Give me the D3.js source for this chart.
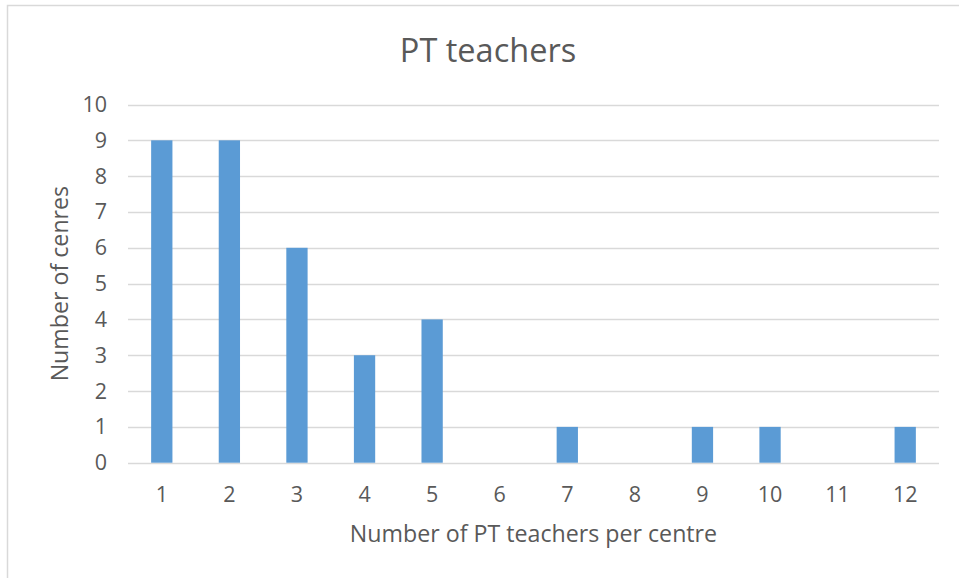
<!DOCTYPE html>
<html><head><meta charset="utf-8">
<script src="https://cdn.jsdelivr.net/npm/d3@7"></script>
<style>
html,body{margin:0;padding:0;background:#fff;}
svg{display:block;font-family:"Open Sans",sans-serif;}
</style></head>
<body>
<svg id="chart" width="959" height="578"></svg>
<script>
const categories = ["1","2","3","4","5","6","7","8","9","10","11","12"];
const values = [9,9,6,3,4,0,1,0,1,1,0,1];
const yTicks = [0,1,2,3,4,5,6,7,8,9,10];
const titleText = "PT teachers";
const xTitle = "Number of PT teachers per centre";
const yTitle = "Number of cenres";

const svg = d3.select("#chart");
const textColor = "#595959";
const gridColor = "#D9D9D9";
const barColor = "#5B9BD5";

// chart border
svg.append("rect").attr("x",7.5).attr("y",5.5).attr("width",1000).attr("height",600)
  .attr("fill","none").attr("stroke",gridColor).attr("stroke-width",1.5);

const plot = {left:128, right:939, top:104.5, bottom:462.7};
const x = d3.scaleBand().domain(categories).range([plot.left, plot.right]).padding(0);
const y = d3.scaleLinear().domain([0,10]).range([plot.bottom, plot.top]);

// gridlines
svg.append("g").selectAll("line").data(yTicks).join("line")
  .attr("x1",plot.left).attr("x2",plot.right)
  .attr("y1",d=>Math.round(y(d))+0.5).attr("y2",d=>Math.round(y(d))+0.5)
  .attr("stroke",gridColor).attr("stroke-width",1.5);

// y tick labels
svg.append("g").selectAll("text").data(yTicks).join("text")
  .attr("x",107).attr("y",d=>y(d)).attr("dy","0.35em")
  .attr("text-anchor","end").attr("fill",textColor).attr("font-size",21.5)
  .text(d=>d);

// bars
const bw = x.bandwidth()*0.315;
svg.append("g").selectAll("rect").data(values).join("rect")
  .attr("x",(d,i)=>x(categories[i])+(x.bandwidth()-bw)/2)
  .attr("width",bw)
  .attr("y",d=>y(d))
  .attr("height",d=>y(0)-y(d))
  .attr("fill",barColor);

// x tick labels
svg.append("g").selectAll("text").data(categories).join("text")
  .attr("x",d=>x(d)+x.bandwidth()/2).attr("y",502)
  .attr("text-anchor","middle").attr("fill",textColor).attr("font-size",21.5)
  .text(d=>d);

// title
svg.append("text").attr("x",488).attr("y",62).attr("text-anchor","middle")
  .attr("fill",textColor).attr("font-size",32.5).text(titleText);

// x axis title
svg.append("text").attr("x",(plot.left+plot.right)/2).attr("y",542).attr("text-anchor","middle")
  .attr("fill",textColor).attr("font-size",23.2).text(xTitle);

// y axis title
svg.append("text").attr("transform",`translate(68,${(plot.top+plot.bottom)/2}) rotate(-90)`)
  .attr("text-anchor","middle").attr("fill",textColor).attr("font-size",23.2).text(yTitle);
</script>
</body></html>
